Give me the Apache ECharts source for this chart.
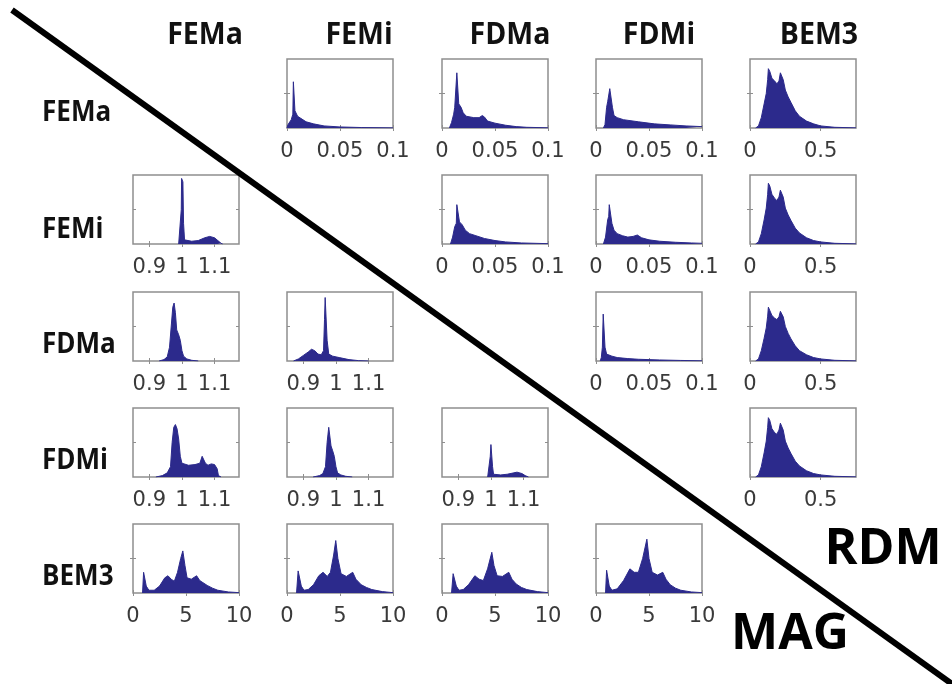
<!DOCTYPE html>
<html><head><meta charset="utf-8">
<script src="https://cdn.jsdelivr.net/npm/echarts@6/dist/echarts.min.js"></script>
<style>html,body{margin:0;padding:0;background:#fff}#c{width:952px;height:684px}</style>
</head><body><div id="c"></div>
<script>
const methods = ['FEMa', 'FEMi', 'FDMa', 'FDMi', 'BEM3'];

// axis ranges & tick labels
const rdmRange = [0, 0.1];      const rdmTicks = [0, 0.05, 0.1];
const rdmBemRange = [0, 0.75];  const rdmBemTicks = [0, 0.5];
const magRange = [0.85, 1.175]; const magTicks = [0.9, 1, 1.1];
const magBemRange = [0, 10];    const magBemTicks = [0, 5, 10];

// RDM histograms (upper triangle), [x, relative height]
const rdm_FEMa_FEMi = [[0,0],[0.001,0.05],[0.004,0.12],[0.0055,0.2],[0.006,0.67],[0.0068,0.67],[0.0075,0.25],[0.01,0.17],[0.013,0.14],[0.018,0.09],[0.025,0.06],[0.035,0.03],[0.05,0.015],[0.07,0.007],[0.1,0.002]];
const rdm_FEMa_FDMa = [[0.007,0],[0.009,0.08],[0.011,0.2],[0.012,0.3],[0.0135,0.32],[0.014,0.8],[0.015,0.8],[0.0158,0.35],[0.018,0.3],[0.02,0.22],[0.023,0.17],[0.03,0.15],[0.035,0.15],[0.038,0.18],[0.04,0.16],[0.043,0.1],[0.05,0.07],[0.06,0.04],[0.07,0.02],[0.08,0.01],[0.1,0.003]];
const rdm_FEMa_FDMi = [[0.007,0],[0.0085,0.05],[0.01,0.3],[0.011,0.38],[0.0125,0.4],[0.013,0.57],[0.0145,0.57],[0.0155,0.3],[0.017,0.18],[0.02,0.15],[0.026,0.12],[0.04,0.09],[0.055,0.06],[0.07,0.045],[0.085,0.03],[0.1,0.02]];
const rdm_FEMa_BEM3 = [[0.04,0],[0.06,0.03],[0.08,0.15],[0.1,0.35],[0.115,0.5],[0.125,0.7],[0.13,0.86],[0.14,0.82],[0.155,0.72],[0.175,0.68],[0.19,0.64],[0.205,0.68],[0.215,0.8],[0.225,0.82],[0.235,0.7],[0.25,0.55],[0.27,0.45],[0.29,0.37],[0.32,0.25],[0.35,0.17],[0.4,0.1],[0.45,0.06],[0.5,0.03],[0.6,0.01],[0.75,0.002]];
const rdm_FEMi_FDMa = [[0.008,0],[0.01,0.1],[0.012,0.25],[0.0135,0.3],[0.014,0.57],[0.0155,0.57],[0.0165,0.32],[0.019,0.28],[0.022,0.2],[0.026,0.15],[0.032,0.12],[0.04,0.08],[0.05,0.05],[0.06,0.03],[0.075,0.015],[0.1,0.005]];
const rdm_FEMi_FDMi = [[0.007,0],[0.009,0.1],[0.011,0.35],[0.012,0.4],[0.0125,0.57],[0.014,0.57],[0.015,0.3],[0.017,0.2],[0.02,0.15],[0.025,0.12],[0.03,0.1],[0.035,0.11],[0.039,0.13],[0.043,0.09],[0.05,0.06],[0.06,0.04],[0.075,0.025],[0.09,0.015],[0.1,0.01]];
const rdm_FEMi_BEM3 = [[0.04,0],[0.06,0.03],[0.08,0.15],[0.1,0.35],[0.115,0.52],[0.125,0.72],[0.13,0.88],[0.14,0.84],[0.155,0.72],[0.175,0.66],[0.19,0.63],[0.205,0.68],[0.215,0.78],[0.225,0.8],[0.235,0.68],[0.25,0.52],[0.27,0.42],[0.29,0.34],[0.32,0.23],[0.35,0.16],[0.4,0.09],[0.45,0.05],[0.5,0.03],[0.6,0.01],[0.75,0.002]];
const rdm_FDMa_FDMi = [[0.004,0],[0.005,0.05],[0.006,0.2],[0.0068,0.68],[0.0078,0.68],[0.0085,0.2],[0.01,0.1],[0.015,0.07],[0.02,0.05],[0.03,0.035],[0.04,0.025],[0.06,0.015],[0.08,0.008],[0.1,0.003]];
const rdm_FDMa_BEM3 = [[0.04,0],[0.06,0.03],[0.08,0.15],[0.1,0.33],[0.115,0.48],[0.125,0.65],[0.13,0.78],[0.14,0.76],[0.155,0.66],[0.175,0.62],[0.19,0.6],[0.205,0.64],[0.215,0.72],[0.225,0.74],[0.235,0.64],[0.25,0.5],[0.27,0.4],[0.29,0.32],[0.32,0.22],[0.35,0.15],[0.4,0.09],[0.45,0.05],[0.5,0.03],[0.6,0.01],[0.75,0.002]];
const rdm_FDMi_BEM3 = [[0.04,0],[0.06,0.03],[0.08,0.15],[0.1,0.35],[0.115,0.52],[0.125,0.72],[0.13,0.86],[0.14,0.82],[0.155,0.7],[0.175,0.64],[0.19,0.62],[0.205,0.68],[0.215,0.78],[0.225,0.8],[0.235,0.68],[0.25,0.52],[0.27,0.42],[0.29,0.34],[0.32,0.23],[0.35,0.16],[0.4,0.09],[0.45,0.05],[0.5,0.03],[0.6,0.01],[0.75,0.002]];

// MAG histograms (lower triangle), [x, relative height]
const mag_FEMi_FEMa = [[0.99,0],[0.995,0.02],[0.998,0.5],[0.999,0.95],[1.003,0.9],[1.005,0.3],[1.008,0.06],[1.03,0.04],[1.05,0.05],[1.07,0.09],[1.085,0.11],[1.1,0.09],[1.11,0.05],[1.12,0.01],[1.125,0]];
const mag_FDMa_FEMa = [[0.93,0],[0.945,0.02],[0.955,0.06],[0.962,0.2],[0.968,0.55],[0.972,0.78],[0.976,0.84],[0.98,0.7],[0.984,0.45],[0.99,0.38],[0.995,0.3],[1.0,0.15],[1.005,0.07],[1.015,0.03],[1.03,0.01],[1.05,0]];
const mag_FDMa_FEMi = [[0.87,0],[0.885,0.03],[0.9,0.08],[0.915,0.13],[0.925,0.17],[0.935,0.15],[0.945,0.1],[0.955,0.09],[0.962,0.15],[0.965,0.6],[0.967,0.92],[0.97,0.9],[0.973,0.3],[0.978,0.1],[0.99,0.07],[1.01,0.05],[1.04,0.02],[1.07,0.005],[1.1,0]];
const mag_FDMi_FEMa = [[0.92,0],[0.94,0.02],[0.955,0.06],[0.965,0.15],[0.97,0.5],[0.975,0.72],[0.98,0.76],[0.985,0.7],[0.99,0.55],[0.995,0.3],[1.0,0.2],[1.02,0.17],[1.04,0.18],[1.055,0.2],[1.062,0.3],[1.066,0.31],[1.072,0.2],[1.08,0.17],[1.09,0.19],[1.1,0.18],[1.108,0.12],[1.112,0.02],[1.12,0]];
const mag_FDMi_FEMi = [[0.93,0],[0.95,0.02],[0.96,0.05],[0.968,0.15],[0.973,0.5],[0.978,0.72],[0.981,0.7],[0.985,0.45],[0.99,0.38],[0.995,0.3],[1.0,0.15],[1.005,0.06],[1.015,0.03],[1.03,0.01],[1.05,0]];
const mag_FDMi_FDMa = [[0.99,0],[0.996,0.02],[0.998,0.3],[1.0,0.47],[1.003,0.45],[1.005,0.15],[1.008,0.04],[1.03,0.03],[1.05,0.04],[1.07,0.06],[1.08,0.07],[1.095,0.05],[1.105,0.02],[1.115,0]];
const mag_BEM3_FEMa = [[0.9,0],[1.0,0.3],[1.1,0.32],[1.25,0.1],[1.5,0.04],[2,0.04],[2.5,0.1],[3,0.22],[3.3,0.25],[3.6,0.2],[3.9,0.17],[4.2,0.3],[4.5,0.5],[4.7,0.61],[4.9,0.4],[5.1,0.22],[5.5,0.2],[6.0,0.25],[6.3,0.18],[7,0.11],[7.5,0.07],[8,0.04],[9,0.015],[10,0.005]];
const mag_BEM3_FEMi = [[0.9,0],[1.05,0.32],[1.2,0.34],[1.35,0.1],[1.6,0.04],[2,0.05],[2.5,0.12],[3,0.25],[3.4,0.3],[3.8,0.24],[4.1,0.3],[4.4,0.55],[4.6,0.76],[4.8,0.5],[5.1,0.28],[5.6,0.24],[6.2,0.3],[6.5,0.2],[7,0.12],[7.5,0.08],[8,0.05],[9,0.02],[10,0.005]];
const mag_BEM3_FDMa = [[0.9,0],[1.05,0.28],[1.2,0.3],[1.35,0.1],[1.6,0.04],[2,0.05],[2.5,0.12],[3.1,0.25],[3.5,0.2],[3.9,0.18],[4.3,0.35],[4.7,0.59],[4.9,0.4],[5.2,0.25],[5.7,0.24],[6.3,0.3],[6.6,0.2],[7,0.13],[7.5,0.08],[8,0.05],[9,0.02],[10,0.005]];
const mag_BEM3_FDMi = [[0.9,0],[1.0,0.33],[1.1,0.35],[1.25,0.1],[1.5,0.04],[2,0.06],[2.6,0.18],[3.2,0.35],[3.6,0.3],[4.0,0.3],[4.4,0.5],[4.8,0.78],[5.0,0.5],[5.3,0.3],[5.8,0.26],[6.3,0.3],[6.6,0.2],[7,0.12],[7.5,0.07],[8,0.04],[9,0.015],[10,0.005]];

const panels = [
  {row:0, col:1, data:rdm_FEMa_FEMi}, {row:0, col:2, data:rdm_FEMa_FDMa}, {row:0, col:3, data:rdm_FEMa_FDMi}, {row:0, col:4, data:rdm_FEMa_BEM3},
  {row:1, col:0, data:mag_FEMi_FEMa}, {row:1, col:2, data:rdm_FEMi_FDMa}, {row:1, col:3, data:rdm_FEMi_FDMi}, {row:1, col:4, data:rdm_FEMi_BEM3},
  {row:2, col:0, data:mag_FDMa_FEMa}, {row:2, col:1, data:mag_FDMa_FEMi}, {row:2, col:3, data:rdm_FDMa_FDMi}, {row:2, col:4, data:rdm_FDMa_BEM3},
  {row:3, col:0, data:mag_FDMi_FEMa}, {row:3, col:1, data:mag_FDMi_FEMi}, {row:3, col:2, data:mag_FDMi_FDMa}, {row:3, col:4, data:rdm_FDMi_BEM3},
  {row:4, col:0, data:mag_BEM3_FEMa}, {row:4, col:1, data:mag_BEM3_FEMi}, {row:4, col:2, data:mag_BEM3_FDMa}, {row:4, col:3, data:mag_BEM3_FDMi}
];

// layout
const colX = [133, 287, 442, 596, 750];
const rowY = [59, 175, 292, 408, 524];
const PW = 106, PH = 69;
const fill = '#2c2a8c';
const frame = '#8e8e8e';

const grid = [], xAxis = [], yAxis = [], series = [];
panels.forEach((p, i) => {
  let range, ticks;
  if (p.row < p.col) { // RDM
    if (p.col === 4) { range = rdmBemRange; ticks = rdmBemTicks; } else { range = rdmRange; ticks = rdmTicks; }
  } else {
    if (p.row === 4) { range = magBemRange; ticks = magBemTicks; } else { range = magRange; ticks = magTicks; }
  }
  grid.push({left: colX[p.col], top: rowY[p.row], width: PW, height: PH, show: true,
    borderColor: frame, borderWidth: 1.5, backgroundColor: '#fff'});
  const tick = {show: true, inside: true, length: 3, customValues: ticks, lineStyle: {color: frame, width: 1}};
  xAxis.push({type: 'value', gridIndex: i, position: 'bottom', min: range[0], max: range[1],
    axisLine: {show: false}, splitLine: {show: false}, axisTick: tick,
    axisLabel: {show: true, customValues: ticks, margin: 13, color: '#3a3a3a', fontSize: 21,
      fontFamily: 'DejaVu Sans', formatter: v => String(v)}});
  xAxis.push({type: 'value', gridIndex: i, position: 'top', min: range[0], max: range[1],
    axisLine: {show: false}, splitLine: {show: false}, axisTick: tick, axisLabel: {show: false}});
  const ytick = {show: true, inside: true, length: 3, customValues: [0.5], lineStyle: {color: frame, width: 1}};
  yAxis.push({type: 'value', gridIndex: i, position: 'left', min: 0, max: 1,
    axisLine: {show: false}, splitLine: {show: false}, axisTick: ytick, axisLabel: {show: false}});
  yAxis.push({type: 'value', gridIndex: i, position: 'right', min: 0, max: 1,
    axisLine: {show: false}, splitLine: {show: false}, axisTick: ytick, axisLabel: {show: false}});
  series.push({type: 'line', xAxisIndex: 2 * i, yAxisIndex: 2 * i, data: p.data, symbol: 'none',
    silent: true, clip: true, lineStyle: {color: fill, width: 1}, areaStyle: {color: fill, opacity: 1}});
});

const colLabelX = [205, 359, 510, 659, 819];
const rowLabelY = [113, 230, 345, 461, 577];
const graphic = [];
methods.forEach((m, k) => {
  graphic.push({type: 'text', x: colLabelX[k], y: 35, scaleX: 0.95, style: {text: m, fill: '#111', font: 'bold 30px "Open Sans"', align: 'center', verticalAlign: 'middle'}});
  graphic.push({type: 'text', x: 42, y: rowLabelY[k], scaleX: 0.93, style: {text: m, fill: '#111', font: 'bold 28px "Open Sans"', align: 'left', verticalAlign: 'middle'}});
});
graphic.push({type: 'text', x: 883, y: 550, style: {text: 'RDM', fill: '#000', font: 'bold 50px "Open Sans"', align: 'center', verticalAlign: 'middle'}});
graphic.push({type: 'text', x: 790, y: 635, style: {text: 'MAG', fill: '#000', font: 'bold 50px "Open Sans"', align: 'center', verticalAlign: 'middle'}});
graphic.push({type: 'line', z: 100, shape: {x1: 12, y1: 10, x2: 952, y2: 684}, style: {stroke: '#000', lineWidth: 6}});

const chart = echarts.init(document.getElementById('c'), null, {renderer: 'canvas'});
chart.setOption({animation: false, backgroundColor: '#fff', grid, xAxis, yAxis, series, graphic});
</script></body></html>
